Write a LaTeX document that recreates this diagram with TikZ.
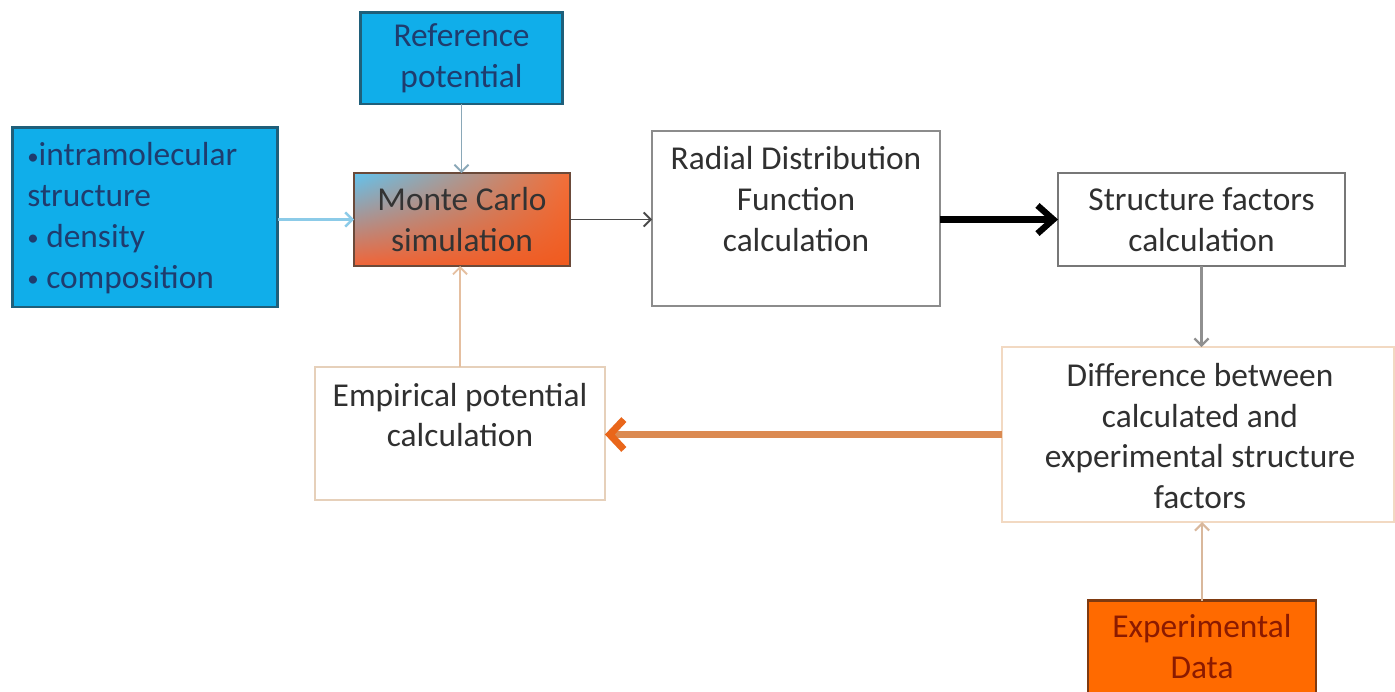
\documentclass[tikz,border=0pt]{standalone}
\usepackage{fontspec}
\setmainfont{Carlito}
\usetikzlibrary{arrows.meta,shadings}
\definecolor{bluefill}{HTML}{10AEEA}
\definecolor{blueborder}{HTML}{1F5F7A}
\definecolor{bluetext}{HTML}{1F3C6E}
\definecolor{mcborder}{HTML}{6B4A3A}
\definecolor{mcul}{HTML}{62C3EE}
\definecolor{mcur}{HTML}{F46E37}
\definecolor{mcll}{HTML}{F26437}
\definecolor{mclr}{HTML}{F05A1E}
\definecolor{expfill}{HTML}{FF6A00}
\definecolor{expborder}{HTML}{7F3A10}
\definecolor{exptext}{HTML}{8B1A00}
\definecolor{greyborder}{HTML}{8C8C8C}
\definecolor{diffborder}{HTML}{F2D9C2}
\definecolor{empborder}{HTML}{E6D0BA}
\definecolor{orangeline}{HTML}{DB8A52}
\definecolor{orangetip}{HTML}{E9661A}
\definecolor{textgrey}{HTML}{303030}
\definecolor{lnblue}{HTML}{8CCBE8}
\definecolor{lnref}{HTML}{8AA8B8}
\definecolor{lnemp}{HTML}{E5BFA0}
\definecolor{lnmc}{HTML}{4A4A4A}
\definecolor{lnsf}{HTML}{909090}
\definecolor{lnexp}{HTML}{D9B89C}
\newcommand{\smbul}{{\fontsize{13}{13}\selectfont\raisebox{1pt}{•}}}
\tikzset{
  box/.style={draw, rectangle, inner sep=0pt, outer sep=0pt},
  txt/.style={align=center, inner sep=0pt, text=textgrey,
     font=\fontsize{19}{23.2}\selectfont},
  thin arrow/.style={line width=0.9pt, -{Straight Barb[length=4pt,width=8pt]}},
}
\begin{document}
\begin{tikzpicture}[x=0.02cm, y=-0.02cm]
\useasboundingbox (0,0) rectangle (1395,691);
\fill[white] (0,0) rectangle (1395,691);
% boxes
\node[box, fill=bluefill, draw=blueborder, line width=1.7pt,
  minimum width=4.06cm, minimum height=1.84cm] (ref) at (461.5,58) {};
\node[box, fill=bluefill, draw=blueborder, line width=1.7pt,
  minimum width=5.32cm, minimum height=3.6cm] (left) at (145,217) {};
\node[box, draw=none,
  minimum width=4.32cm, minimum height=1.86cm] (mc) at (462,219.5) {};
\shade[shading=bilinear interpolation, upper left=mcul, upper right=mcur,
  lower left=mcll, lower right=mclr]
  (mc.north west) rectangle (mc.south east);
\draw[mcborder, line width=1.5pt] (mc.north west) rectangle (mc.south east);
\node[box, fill=white, draw=greyborder, line width=1.2pt,
  minimum width=5.76cm, minimum height=3.5cm] (rdf) at (796,218.5) {};
\node[box, fill=white, draw=greyborder!85!black, line width=1.3pt,
  minimum width=5.74cm, minimum height=1.86cm] (sf) at (1201.5,219.5) {};
\node[box, fill=white, draw=diffborder, line width=1.4pt,
  minimum width=7.84cm, minimum height=3.5cm] (diff) at (1198,434.5) {};
\node[box, fill=white, draw=empborder, line width=1.2pt,
  minimum width=5.8cm, minimum height=2.66cm] (emp) at (460,433.5) {};
\node[box, fill=expfill, draw=expborder, line width=1.4pt,
  minimum width=4.56cm, minimum height=1.98cm] (exp) at (1202,650) {};
% texts
\node[txt, text=bluetext] (reft) at (461.5,58.5) {Reference\\potential};
\node[txt, align=left, anchor=west, text=bluetext] (leftt) at (27,218)
  {\smbul intramolecular\\structure\\\smbul\ density\\\smbul\ composition};
\node[txt, text=black!80] (mct) at (462,219.5) {Monte Carlo\\simulation};
\node[txt] (rdft) at (796,199) {Radial Distribution\\Function\\calculation};
\node[txt] (sft) at (1201.5,219.5) {Structure factors\\calculation};
\node[txt] (difft) at (1200,436) {Difference between\\calculated and\\experimental structure\\factors};
\node[txt] (empt) at (460,415) {Empirical potential\\calculation};
\node[txt, text=exptext] (expt) at (1202,646.5) {Experimental\\Data};
% connectors
\draw[thin arrow, line width=1.4pt, draw=lnblue] (left.east |- mc.west) -- (mc.west);
\draw[thin arrow, line width=1.1pt, draw=lnref] (ref.south) -- (ref.south |- mc.north);
\draw[thin arrow, line width=1.1pt, draw=lnemp] (emp.north) -- (emp.north |- mc.south);
\draw[thin arrow, line width=1.1pt, draw=lnmc] (mc.east) -- (mc.east -| rdf.west);
\draw[line width=3.6pt, black, -{Straight Barb[length=9pt,width=16pt]}]
  (rdf.east |- sf.west) -- (sf.west);
\draw[thin arrow, line width=1.3pt, draw=lnsf] (sf.south) -- (sf.south |- diff.north);
\draw[line width=4pt, orangeline, -{Straight Barb[length=8pt,width=17pt,color=orangetip]}]
  (diff.west) -- (diff.west -| emp.east);
\draw[thin arrow, line width=1.2pt, draw=lnexp] (exp.north) -- (exp.north |- diff.south);
\end{tikzpicture}
\end{document}
